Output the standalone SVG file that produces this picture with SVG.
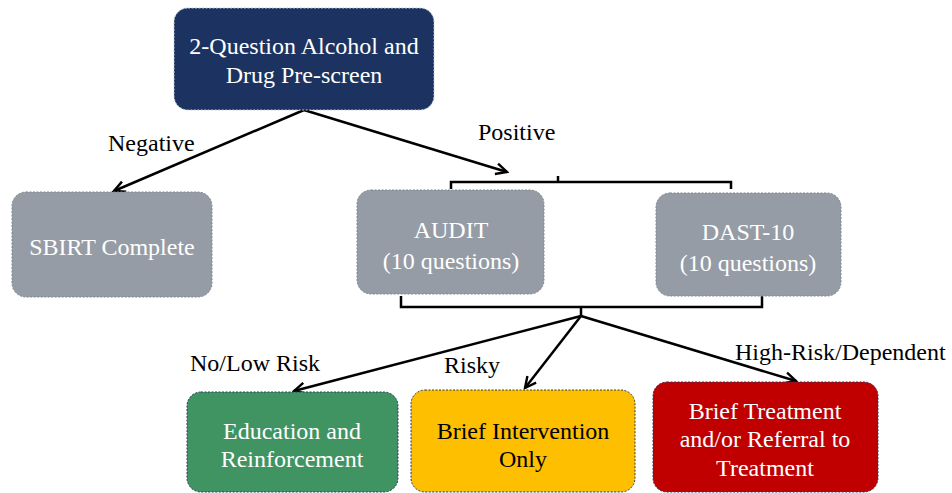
<svg xmlns="http://www.w3.org/2000/svg" width="952" height="493" viewBox="0 0 952 493">
<defs>
<marker id="arr" viewBox="0 0 14 14" refX="12" refY="7" markerWidth="14" markerHeight="14" markerUnits="userSpaceOnUse" orient="auto">
<path d="M1,1.5 L12,7 L1,12.5" fill="none" stroke="#000" stroke-width="2.4"/>
</marker>
</defs>
<style>
.box{stroke-width:1;stroke-dasharray:2 1.5}
.navy{fill:#1c3361;stroke:#c8ccd4}
.gray{fill:#959ca5;stroke:#7f8793}
.green{fill:#3f9462;stroke:#2a3b5c}
.yellow{fill:#fdbf00;stroke:#2a3b5c}
.red{fill:#c00000;stroke:#2a3b5c}
.t{font-family:"Liberation Serif","Times New Roman",serif;font-size:24px;text-anchor:middle}
.w{fill:#fff}
.k{fill:#000}
.lbl{font-family:"Liberation Serif","Times New Roman",serif;font-size:24px;fill:#000}
.ln{fill:none;stroke:#000;stroke-width:2.5}
</style>
<g id="connectors">
<line class="ln" x1="304" y1="110" x2="114" y2="191" marker-end="url(#arr)"/>
<line class="ln" x1="304" y1="110" x2="507" y2="172" marker-end="url(#arr)"/>
<path class="ln" d="M451,189 V182 H731 V189 M558,182 V176"/>
<path class="ln" d="M401,296 V307 H762 V296 M581,307 V316"/>
<line class="ln" x1="581" y1="316" x2="294" y2="391" marker-end="url(#arr)"/>
<line class="ln" x1="581" y1="316" x2="525" y2="388" marker-end="url(#arr)"/>
<line class="ln" x1="581" y1="316" x2="796" y2="381" marker-end="url(#arr)"/>
<text class="lbl" x="108" y="151">Negative</text>
<text class="lbl" x="478" y="140">Positive</text>
<text class="lbl" x="190" y="371">No/Low Risk</text>
<text class="lbl" x="444" y="373">Risky</text>
<text class="lbl" x="735" y="360">High-Risk/Dependent</text>
</g>
<g id="prescreen">
<rect class="box navy" x="174" y="8" width="260" height="102" rx="14"/>
<text class="t w" x="304" y="54">2-Question Alcohol and</text>
<text class="t w" x="304" y="83">Drug Pre-screen</text>
</g>
<g id="sbirt">
<rect class="box gray" x="12" y="192" width="200" height="105" rx="14"/>
<text class="t w" x="112" y="255">SBIRT Complete</text>
</g>
<g id="audit">
<rect class="box gray" x="357" y="190" width="187" height="104" rx="14"/>
<text class="t w" x="451" y="238">AUDIT</text>
<text class="t w" x="451" y="269">(10 questions)</text>
</g>
<g id="dast">
<rect class="box gray" x="656" y="193" width="185" height="103" rx="14"/>
<text class="t w" x="748" y="240">DAST-10</text>
<text class="t w" x="748" y="271">(10 questions)</text>
</g>
<g id="education">
<rect class="box green" x="187" y="392" width="211" height="100" rx="14"/>
<text class="t w" x="292" y="439">Education and</text>
<text class="t w" x="292" y="467">Reinforcement</text>
</g>
<g id="brief-intervention">
<rect class="box yellow" x="411" y="390" width="224" height="102" rx="14"/>
<text class="t k" x="523" y="439">Brief Intervention</text>
<text class="t k" x="523" y="467">Only</text>
</g>
<g id="brief-treatment">
<rect class="box red" x="653" y="382" width="225" height="110" rx="14"/>
<text class="t w" x="765" y="419">Brief Treatment</text>
<text class="t w" x="765" y="447">and/or Referral to</text>
<text class="t w" x="765" y="476">Treatment</text>
</g>
</svg>
